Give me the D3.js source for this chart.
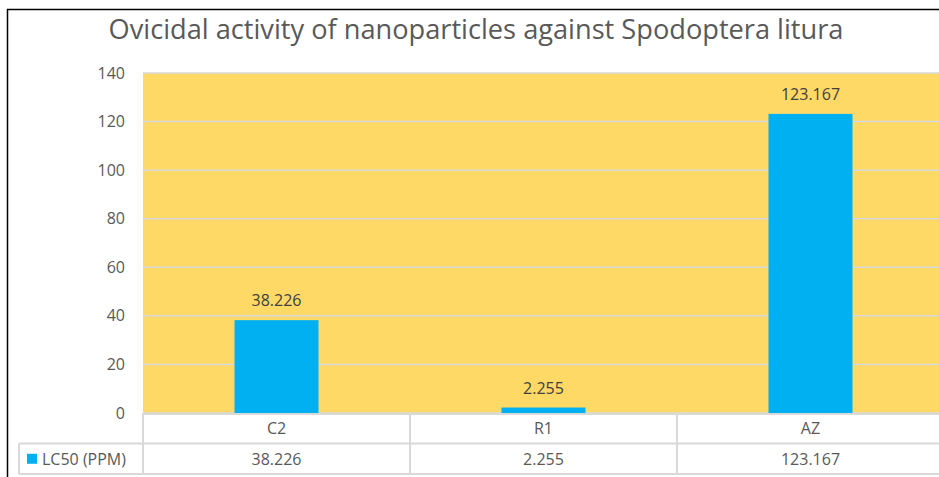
<!DOCTYPE html>
<html>
<head>
<meta charset="utf-8">
<script src="https://cdn.jsdelivr.net/npm/d3@7"></script>
<style>
  body { margin: 0; background: #fff; }
  text { font-family: "Open Sans", "Noto Sans", sans-serif; }
</style>
</head>
<body>
<script>
var width = 939;
var height = 477;

var categories = ['C2', 'R1', 'AZ'];
var values = [38.226, 2.255, 123.167];
var seriesName = 'LC50 (PPM)';
var yTicks = [0, 20, 40, 60, 80, 100, 120, 140];

var plot = { left: 143, right: 944, top: 73, bottom: 413 };
var rowH = 30.5;

var svg = d3.select('body').append('svg')
    .attr('width', width)
    .attr('height', height);

// outer frame (only top and left show)
svg.append('line').attr('x1', 7).attr('x2', width).attr('y1', 9.5).attr('y2', 9.5)
    .attr('stroke', '#000').attr('stroke-width', 1.5);
svg.append('line').attr('x1', 7.5).attr('x2', 7.5).attr('y1', 9).attr('y2', height)
    .attr('stroke', '#000').attr('stroke-width', 1.5);

svg.append('text')
    .attr('x', 476)
    .attr('y', 39)
    .attr('text-anchor', 'middle')
    .attr('font-size', 27.2)
    .attr('fill', '#595959')
    .text('Ovicidal activity of nanoparticles against Spodoptera litura');

var x = d3.scaleBand()
    .domain(categories)
    .range([plot.left, plot.right])
    .paddingInner(0)
    .paddingOuter(0);

var y = d3.scaleLinear()
    .domain([0, 140])
    .range([plot.bottom, plot.top]);

// plot background
svg.append('rect')
    .attr('x', plot.left)
    .attr('y', plot.top)
    .attr('width', plot.right - plot.left)
    .attr('height', plot.bottom - plot.top)
    .attr('fill', '#ffd966');

// gridlines
svg.append('g').selectAll('line')
    .data(yTicks)
  .enter().append('line')
    .attr('x1', plot.left)
    .attr('x2', plot.right)
    .attr('y1', function(d) { return y(d); })
    .attr('y2', function(d) { return y(d); })
    .attr('stroke', '#d9d9d9')
    .attr('stroke-width', 1.5);

// y axis labels
var yAxis = d3.axisLeft(y).tickValues(yTicks).tickSize(0).tickPadding(18);
svg.append('g')
    .attr('transform', 'translate(' + plot.left + ',0)')
    .call(yAxis)
    .call(function(g) { g.select('.domain').remove(); })
    .selectAll('text')
    .attr('font-size', 16)
    .attr('fill', '#595959')
    .attr('font-family', '"Open Sans", sans-serif');

// bars
var barW = 84;
svg.append('g').selectAll('rect')
    .data(values)
  .enter().append('rect')
    .attr('x', function(d, i) { return x(categories[i]) + (x.bandwidth() - barW) / 2; })
    .attr('y', function(d) { return y(d); })
    .attr('width', barW)
    .attr('height', function(d) { return y(0) - y(d); })
    .attr('fill', '#00b0f0');

// data labels
svg.append('g').selectAll('text')
    .data(values)
  .enter().append('text')
    .attr('x', function(d, i) { return x(categories[i]) + x.bandwidth() / 2; })
    .attr('y', function(d) { return y(d) - 14; })
    .attr('text-anchor', 'middle')
    .attr('font-size', 16)
    .attr('fill', '#404040')
    .text(function(d) { return d; });

// data table
var table = svg.append('g');
var tLeft = 19;
var r1 = plot.bottom, r2 = plot.bottom + rowH, r3 = plot.bottom + 2 * rowH;

[r2, r3].forEach(function(yy) {
  table.append('line').attr('x1', tLeft).attr('x2', width).attr('y1', yy).attr('y2', yy)
      .attr('stroke', '#d9d9d9').attr('stroke-width', 2);
});
table.append('line').attr('x1', plot.left).attr('x2', width).attr('y1', r1 + 1).attr('y2', r1 + 1)
    .attr('stroke', '#d9d9d9').attr('stroke-width', 2);
table.append('line').attr('x1', tLeft).attr('x2', tLeft).attr('y1', r2).attr('y2', r3)
    .attr('stroke', '#d9d9d9').attr('stroke-width', 2);
table.selectAll('.vline')
    .data(categories)
  .enter().append('line')
    .attr('class', 'vline')
    .attr('x1', function(d) { return x(d); })
    .attr('x2', function(d) { return x(d); })
    .attr('y1', r1)
    .attr('y2', r3)
    .attr('stroke', '#d9d9d9')
    .attr('stroke-width', 2);

table.selectAll('.cat')
    .data(categories)
  .enter().append('text')
    .attr('class', 'cat')
    .attr('x', function(d) { return x(d) + x.bandwidth() / 2; })
    .attr('y', r1 + rowH / 2 + 6)
    .attr('text-anchor', 'middle')
    .attr('font-size', 16)
    .attr('fill', '#595959')
    .text(function(d) { return d; });

table.selectAll('.val')
    .data(values)
  .enter().append('text')
    .attr('class', 'val')
    .attr('x', function(d, i) { return x(categories[i]) + x.bandwidth() / 2; })
    .attr('y', r2 + rowH / 2 + 6)
    .attr('text-anchor', 'middle')
    .attr('font-size', 16)
    .attr('fill', '#595959')
    .text(function(d) { return d; });

// legend key + series name
table.append('rect')
    .attr('x', 27).attr('y', r2 + rowH / 2 - 5)
    .attr('width', 10).attr('height', 10)
    .attr('fill', '#00b0f0');
table.append('text')
    .attr('x', 42)
    .attr('y', r2 + rowH / 2 + 6)
    .attr('font-size', 16)
    .attr('fill', '#595959')
    .text(seriesName);
</script>
</body>
</html>
